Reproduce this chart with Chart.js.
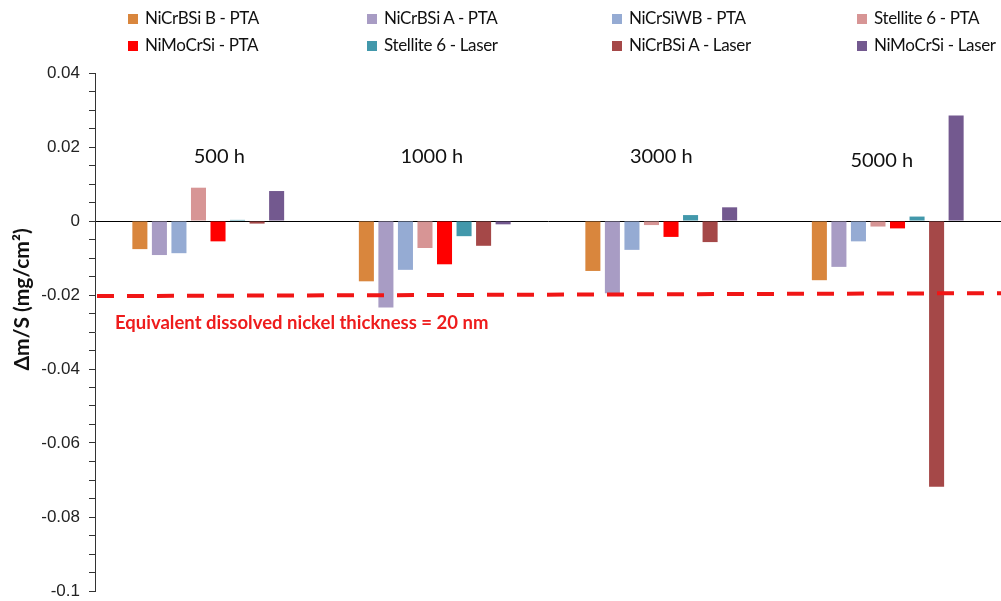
<!DOCTYPE html>
<html>
<head>
<meta charset="utf-8">
<script src="https://cdn.jsdelivr.net/npm/chart.js@4.4.1/dist/chart.umd.min.js"></script>
<style>
  html, body { margin: 0; padding: 0; background: #fff; }
  #wrap { position: relative; width: 1001px; height: 601px; }
  #legend { position: absolute; left: 0; top: 0; width: 1001px; height: 60px; font-family: Lato, sans-serif; font-size: 17px; letter-spacing: -0.35px; color: #111; }
  .item { position: absolute; white-space: nowrap; line-height: 20px; }
  .box { display: inline-block; width: 10px; height: 10px; margin-right: 7px; vertical-align: 0px; }
</style>
</head>
<body>
<div id="wrap">
  <canvas id="chart" width="1001" height="601"></canvas>
  <div id="legend"></div>
</div>
<script>
// categories and series (mg/cm2)
const periods = ['500 h', '1000 h', '3000 h', '5000 h'];
const seriesNames = [
  'NiCrBSi B - PTA', 'NiCrBSi A - PTA', 'NiCrSiWB - PTA', 'Stellite 6 - PTA',
  'NiMoCrSi - PTA', 'Stellite 6 - Laser', 'NiCrBSi A - Laser', 'NiMoCrSi - Laser'
];
const nicrbsiB_PTA   = [-0.0076, -0.0163, -0.0135, -0.0160];
const nicrbsiA_PTA   = [-0.0092, -0.0234, -0.0195, -0.0124];
const nicrsiwb_PTA   = [-0.0087, -0.0132, -0.0078, -0.0055];
const stellite6_PTA  = [ 0.0090, -0.0073, -0.0011, -0.0015];
const nimocrsi_PTA   = [-0.0055, -0.0117, -0.0043, -0.0020];
const stellite6_Las  = [ 0.0003, -0.0041,  0.0016,  0.0012];
const nicrbsiA_Las   = [-0.0007, -0.0067, -0.0057, -0.0718];
const nimocrsi_Las   = [ 0.0081, -0.0009,  0.0037,  0.0285];
const seriesValues = [nicrbsiB_PTA, nicrbsiA_PTA, nicrsiwb_PTA, stellite6_PTA,
                      nimocrsi_PTA, stellite6_Las, nicrbsiA_Las, nimocrsi_Las];
const seriesColors = ['#d9863d', '#a89cc4', '#95abd3', '#d79595',
                      '#ff0000', '#4298ab', '#a54848', '#73598f'];

// y axis
const yMin = -0.1;
const yMax = 0.04;
const yMajor = 0.02;
const yMinor = 0.005;

// 20 nm dissolved nickel reference line (left end, right end)
const limitLine = [-0.0203, -0.0195];
const limitText = 'Equivalent dissolved nickel thickness = 20 nm';
const yTitle = 'Δm/S (mg/cm²)';

const extras = {
  id: 'extras',
  afterDatasetsDraw(chart) {
    const ctx = chart.ctx;
    const x = chart.scales.x;
    const y = chart.scales.y;
    const area = chart.chartArea;

    // period labels inside the plot
    const nudge = [11, -3, 0, -6];
    const lift = [0.0174, 0.0174, 0.0174, 0.0163];
    ctx.save();
    ctx.fillStyle = '#111';
    ctx.font = '20px Lato, sans-serif';
    ctx.textAlign = 'center';
    ctx.textBaseline = 'middle';
    periods.forEach((p, i) => {
      ctx.fillText(p, x.getPixelForValue(i) + nudge[i], y.getPixelForValue(lift[i]));
    });
    ctx.restore();

    // dashed limit line
    ctx.save();
    ctx.strokeStyle = '#f01616';
    ctx.lineWidth = 4;
    ctx.setLineDash([17, 13]);
    ctx.beginPath();
    ctx.moveTo(area.left + 2, y.getPixelForValue(limitLine[0]));
    ctx.lineTo(chart.width, y.getPixelForValue(limitLine[1]));
    ctx.stroke();
    ctx.restore();

    ctx.save();
    ctx.fillStyle = '#ee1c1c';
    ctx.font = 'bold 18.5px Lato, sans-serif';
    ctx.textAlign = 'left';
    ctx.textBaseline = 'middle';
    ctx.fillText(limitText, area.left + 20, y.getPixelForValue(-0.0275));
    ctx.restore();

    // y axis title
    ctx.save();
    ctx.translate(22, y.getPixelForValue(-0.0212));
    ctx.rotate(-Math.PI / 2);
    ctx.fillStyle = '#111';
    ctx.font = 'bold 21px Lato, sans-serif';
    ctx.textAlign = 'center';
    ctx.textBaseline = 'middle';
    ctx.fillText(yTitle, 0, 0);
    ctx.restore();
  }
};

const datasets = seriesNames.map((name, i) => ({
  label: name,
  data: seriesValues[i],
  backgroundColor: seriesColors[i],
  borderWidth: 0,
  categoryPercentage: 0.69,
  barPercentage: 0.77
}));

const isMajor = v => Math.abs(v / yMajor - Math.round(v / yMajor)) < 1e-6;

const chart = new Chart(document.getElementById('chart').getContext('2d'), {
  type: 'bar',
  data: { labels: periods, datasets: datasets },
  options: {
    responsive: false,
    animation: false,
    devicePixelRatio: 1,
    layout: { padding: { top: 73, bottom: 10, left: 0, right: 0 } },
    plugins: { legend: { display: false }, tooltip: { enabled: false } },
    scales: {
      x: { display: false },
      y: {
        min: yMin,
        max: yMax,
        afterFit(scale) {
          scale.width = 95;
          scale.paddingTop = 0;
          scale.paddingBottom = 0;
        },
        border: { display: true, color: '#333', width: 1 },
        grid: {
          drawOnChartArea: true,
          color: c => (c.tick && Math.abs(c.tick.value) < 1e-9) ? '#000' : 'rgba(0,0,0,0)',
          tickColor: '#333',
          tickLength: 6,
          lineWidth: 1
        },
        ticks: {
          stepSize: yMinor,
          autoSkip: false,
          padding: 9,
          color: '#222',
          font: { family: 'Liberation Sans, Arial, sans-serif', size: 17 },
          callback: v => isMajor(v) ? String(parseFloat(v.toFixed(2))) : ''
        }
      }
    }
  },
  plugins: [extras]
});

// legend, two rows of four
const legendCols = [128, 367, 612, 857];
const legendRows = [8, 35];
const legend = document.getElementById('legend');
seriesNames.forEach((name, i) => {
  const item = document.createElement('div');
  item.className = 'item';
  item.style.left = legendCols[i % 4] + 'px';
  item.style.top = legendRows[Math.floor(i / 4)] + 'px';
  item.innerHTML = '<span class="box" style="background:' + seriesColors[i] + '"></span>' + name;
  legend.appendChild(item);
});
</script>
</body>
</html>
